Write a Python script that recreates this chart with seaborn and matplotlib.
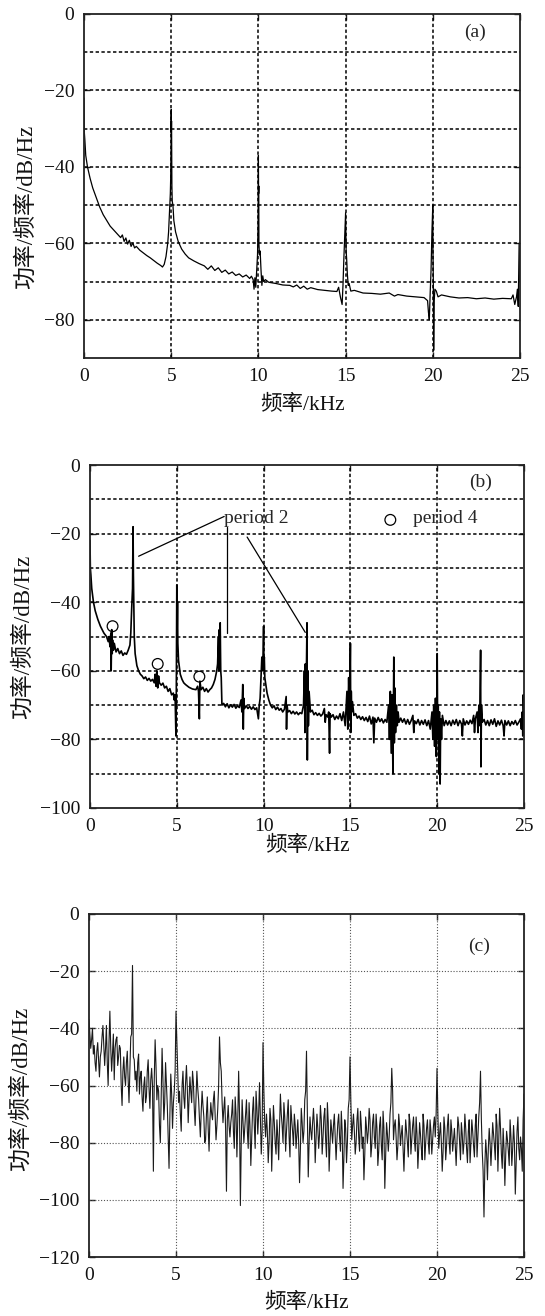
import numpy as np
import matplotlib
matplotlib.use("Agg")
import matplotlib.pyplot as plt
import seaborn as sns

# ---------------- spectrum (a): normal operation ----------------
freq_a = [
    0.00, 0.02, 0.05, 0.10, 0.20, 0.35, 0.50, 0.70, 0.90, 1.10, 1.30, 1.50, 1.70, 1.90,
    2.10, 2.20, 2.30, 2.40, 2.50, 2.60, 2.70, 2.80, 2.90, 3.00, 3.20, 3.40, 3.60, 3.80,
    4.00, 4.20, 4.40, 4.50, 4.60, 4.70, 4.80, 4.85, 4.90, 4.95, 4.97, 4.99, 5.00, 5.01,
    5.02, 5.04, 5.06, 5.10, 5.15, 5.25, 5.40, 5.60, 5.80, 6.00, 6.30, 6.60, 6.90, 7.10,
    7.30, 7.50, 7.70, 7.90, 8.10, 8.30, 8.50, 8.70, 8.90, 9.10, 9.30, 9.50, 9.60, 9.70,
    9.75, 9.80, 9.85, 9.90, 9.95, 9.98, 10.00, 10.01, 10.02, 10.03, 10.06, 10.10, 10.15,
    10.20, 10.25, 10.30, 10.40, 10.60, 11.00, 11.40, 11.80, 12.00, 12.20, 12.40, 12.60,
    12.80, 13.00, 13.40, 13.80, 14.20, 14.50, 14.60, 14.70, 14.80, 14.85, 14.90, 14.95,
    15.00, 15.01, 15.03, 15.06, 15.10, 15.15, 15.20, 15.30, 15.50, 16.00, 16.50, 17.00,
    17.50, 17.80, 18.00, 18.50, 19.00, 19.50, 19.70, 19.75, 19.80, 19.85, 19.90, 19.95,
    20.00, 20.01, 20.03, 20.05, 20.08, 20.12, 20.20, 20.30, 20.50, 21.00, 21.50, 22.00,
    22.50, 23.00, 23.50, 24.00, 24.50, 24.60, 24.70, 24.80, 24.85, 24.90, 24.95, 25.00,
]
psd_a = [
    -22.0, -31.0, -33.0, -37.0, -40.0, -43.0, -45.5, -48.0, -50.5, -52.5, -54.0, -55.5, -56.5, -57.5,
    -58.5, -57.8, -59.5, -58.6, -60.2, -59.2, -60.8, -59.9, -61.2, -60.8, -61.8, -62.5, -63.2, -63.8,
    -64.5, -65.2, -65.8, -66.2, -65.5, -63.5, -60.0, -57.0, -52.0, -47.0, -43.0, -35.0, -25.0, -31.0,
    -28.0, -45.0, -49.0, -50.0, -54.0, -57.0, -59.5, -61.5, -62.8, -63.8, -64.6, -65.3, -65.9, -66.8,
    -65.9, -67.1, -66.4, -67.6, -67.0, -68.0, -67.5, -68.4, -68.0, -68.8, -68.3, -69.2, -68.6, -69.5,
    -72.0, -69.0, -71.5, -67.0, -63.0, -55.0, -37.0, -47.0, -45.0, -60.0, -63.0, -62.0, -67.0,
    -71.0, -68.5, -70.0, -69.5, -70.2, -70.5, -70.9, -71.0, -71.4, -70.9, -71.8, -71.2,
    -72.0, -71.6, -72.1, -72.3, -72.5, -72.6, -71.5, -74.0, -76.0, -71.0, -64.0, -58.0,
    -52.0, -55.0, -62.0, -64.0, -68.0, -71.0, -70.5, -72.5, -72.3, -73.0, -73.1, -73.3,
    -73.0, -73.8, -73.4, -73.8, -74.0, -74.2, -75.0, -78.0, -80.0, -73.0, -67.0, -57.0,
    -50.0, -62.0, -70.0, -88.0, -75.0, -72.0, -72.5, -74.0, -73.5, -74.0, -74.3, -74.2,
    -74.5, -74.3, -74.6, -74.4, -74.5, -73.5, -76.0, -74.0, -72.0, -76.5, -60.0, -70.0,
]

# ---------------- spectrum (b): period-doubling ----------------
freq_b = [
    0.00, 0.02, 0.05, 0.10, 0.20, 0.30, 0.45, 0.60, 0.80, 0.95, 1.05, 1.10, 1.15, 1.20,
    1.22, 1.25, 1.28, 1.30, 1.35, 1.40, 1.50, 1.60, 1.70, 1.80, 1.90, 2.00, 2.10, 2.20,
    2.30, 2.35, 2.40, 2.45, 2.48, 2.50, 2.52, 2.55, 2.60, 2.70, 2.80, 2.90, 3.00, 3.10,
    3.20, 3.30, 3.40, 3.50, 3.60, 3.70, 3.75, 3.80, 3.85, 3.90, 3.95, 4.00, 4.10, 4.20,
    4.30, 4.40, 4.50, 4.60, 4.70, 4.80, 4.85, 4.90, 4.95, 4.97, 5.00, 5.02, 5.04, 5.06,
    5.10, 5.15, 5.20, 5.30, 5.40, 5.50, 5.70, 5.90, 6.10, 6.20, 6.25, 6.30, 6.33, 6.40,
    6.50, 6.60, 6.70, 6.80, 6.90, 7.00, 7.10, 7.20, 7.30, 7.35, 7.40, 7.42, 7.45, 7.48,
    7.50, 7.53, 7.56, 7.60, 7.70, 7.80, 7.90, 8.00, 8.10, 8.20, 8.30, 8.40, 8.50, 8.60,
    8.70, 8.75, 8.80, 8.83, 8.86, 8.90, 9.00, 9.10, 9.20, 9.30, 9.40, 9.50, 9.60, 9.70,
    9.75, 9.80, 9.85, 9.90, 9.95, 10.00, 10.02, 10.04, 10.07, 10.10, 10.20, 10.30, 10.40,
    10.50, 10.60, 10.70, 10.80, 10.90, 11.00, 11.10, 11.20, 11.30, 11.32, 11.35, 11.40,
    11.50, 11.60, 11.70, 11.80, 11.90, 12.00, 12.10, 12.20, 12.30, 12.35, 12.38, 12.40,
    12.43, 12.46, 12.50, 12.52, 12.55, 12.58, 12.62, 12.70, 12.80, 12.90, 13.00, 13.10,
    13.20, 13.30, 13.40, 13.50, 13.55, 13.60, 13.70, 13.75, 13.80, 13.83, 13.90, 14.00,
    14.10, 14.20, 14.30, 14.40, 14.50, 14.60, 14.70, 14.80, 14.85, 14.90, 14.95, 15.00,
    15.02, 15.05, 15.08, 15.12, 15.20, 15.30, 15.40, 15.50, 15.60, 15.70, 15.80, 15.90,
    16.00, 16.10, 16.20, 16.30, 16.35, 16.40, 16.50, 16.60, 16.70, 16.80, 16.90, 17.00,
    17.10, 17.20, 17.25, 17.30, 17.35, 17.40, 17.45, 17.50, 17.53, 17.56, 17.60, 17.65,
    17.70, 17.75, 17.80, 17.90, 18.00, 18.10, 18.20, 18.30, 18.40, 18.50, 18.60, 18.65,
    18.70, 18.80, 18.90, 19.00, 19.10, 19.20, 19.30, 19.40, 19.50, 19.60, 19.70, 19.75,
    19.80, 19.85, 19.90, 19.95, 20.00, 20.03, 20.06, 20.10, 20.13, 20.17, 20.20, 20.25,
    20.30, 20.40, 20.50, 20.60, 20.70, 20.80, 20.90, 21.00, 21.10, 21.20, 21.30, 21.40,
    21.45, 21.50, 21.60, 21.70, 21.80, 21.90, 22.00, 22.10, 22.15, 22.20, 22.30, 22.35,
    22.40, 22.45, 22.50, 22.52, 22.55, 22.60, 22.70, 22.80, 22.90, 23.00, 23.10, 23.20,
    23.30, 23.40, 23.50, 23.60, 23.70, 23.80, 23.85, 23.90, 24.00, 24.10, 24.20, 24.30,
    24.40, 24.50, 24.60, 24.70, 24.80, 24.85, 24.90, 24.93, 24.96, 25.00,
]
psd_b = [
    -22.0, -30.0, -32.0, -36.0, -40.0, -42.5, -45.0, -47.0, -49.0, -50.0, -51.5, -50.0, -53.0, -49.0,
    -60.0, -48.0, -55.0, -51.0, -54.0, -52.0, -54.5, -53.5, -55.0, -54.2, -55.5, -54.8, -55.2, -54.0,
    -52.5, -49.0, -42.0, -36.0, -18.0, -32.0, -40.0, -50.0, -55.0, -58.5, -60.0, -61.0, -61.5, -62.3,
    -61.8, -62.8, -62.2, -63.0, -62.5, -63.5, -61.0, -64.5, -60.0, -65.0, -61.5, -63.5, -64.2, -63.6,
    -65.0, -64.5, -66.0, -65.2, -67.0, -66.5, -68.5, -67.0, -79.0, -68.0, -35.0, -48.0, -40.0, -52.0,
    -57.0, -59.0, -61.0, -62.5, -63.5, -64.0, -64.8, -65.3, -65.5, -64.5, -66.0, -74.0, -63.0, -65.5,
    -64.8, -66.0, -65.2, -66.2, -65.5, -65.0, -64.0, -62.5, -60.0, -58.0, -50.0, -60.0, -48.0, -57.0,
    -46.0, -60.0, -62.0, -70.0, -69.5, -70.5, -69.6, -70.8, -69.9, -70.6, -69.8, -70.9, -70.2, -70.7,
    -68.5, -72.0, -64.0, -77.0, -68.0, -71.0, -70.2, -71.0, -70.4, -71.2, -70.5, -71.3, -70.8, -74.0,
    -70.0, -68.0, -62.0, -56.0, -60.0, -47.0, -58.0, -56.0, -62.0, -63.0, -66.5, -68.5, -70.0,
    -70.8, -70.2, -71.3, -70.6, -71.5, -71.0, -72.0, -71.2, -67.5, -77.0, -70.0, -72.0,
    -71.6, -72.5, -71.8, -72.6, -72.0, -72.8, -72.2, -72.5, -70.0, -60.0, -78.0, -58.0,
    -70.0, -62.0, -46.0, -86.0, -60.0, -76.0, -66.0, -72.0, -71.5, -72.8, -72.2, -73.0,
    -72.4, -73.2, -72.6, -71.0, -75.0, -72.8, -73.5, -72.0, -84.0, -72.5, -73.5, -72.8,
    -74.2, -73.2, -74.0, -72.5, -74.5, -72.0, -76.0, -66.0, -77.0, -62.0, -74.0, -52.0,
    -78.0, -66.0, -72.0, -69.0, -73.0, -72.5, -73.8, -73.2, -74.2, -73.4, -74.5, -73.6,
    -74.8, -73.2, -75.5, -73.5, -81.0, -73.8, -75.0, -73.6, -74.8, -74.0, -75.2, -74.2,
    -75.0, -70.0, -80.0, -66.0, -84.0, -67.0, -90.0, -56.0, -81.0, -65.0, -78.0, -70.0,
    -76.0, -72.0, -75.0, -73.8, -75.0, -74.0, -75.5, -74.2, -75.6, -74.5, -73.0, -78.0,
    -74.6, -75.4, -74.2, -75.8, -74.5, -75.6, -74.3, -76.0, -74.5, -77.0, -72.0, -80.0,
    -70.0, -82.0, -68.0, -85.0, -55.0, -80.0, -70.0, -90.0, -72.0, -93.0, -74.0, -80.0,
    -73.0, -76.0, -74.5, -75.8, -74.6, -76.0, -74.4, -75.6, -74.2, -76.0, -74.5, -75.5,
    -79.0, -74.0, -75.8, -74.6, -75.6, -74.4, -75.4, -73.0, -78.0, -74.0, -72.0, -78.0,
    -70.0, -76.0, -54.0, -88.0, -70.0, -75.0, -74.2, -75.8, -74.5, -76.0, -74.3, -75.6,
    -74.0, -76.2, -74.6, -75.8, -74.4, -76.0, -79.0, -74.5, -75.8, -74.6, -76.0, -74.8,
    -75.6, -74.5, -75.8, -75.0, -74.0, -77.0, -72.0, -79.0, -67.0, -75.0,
]

# period-4 sub-harmonic markers
p4_freq = [1.30, 3.90, 6.30]
p4_psd = [-47.0, -58.0, -61.7]

# ---------------- spectrum (c): chaotic regime, 0.05 kHz bins (one row per kHz) ----------------
psd_c = [
    -37, -42, -47, -44, -40, -49, -46, -52, -55, -48, -45, -51, -57, -50, -48, -43, -39, -46, -53, -47,
    -39, -52, -60, -45, -34, -47, -55, -49, -42, -58, -47, -44, -43, -53, -50, -46, -47, -60, -67, -55,
    -50, -57, -60, -52, -48, -58, -66, -54, -43, -42, -18, -50, -51, -58, -55, -62, -52, -49, -63, -57,
    -55, -64, -69, -60, -57, -66, -64, -55, -51, -61, -68, -58, -54, -60, -90, -58, -44, -53, -65, -60,
    -62, -74, -80, -63, -47, -58, -72, -66, -52, -60, -67, -78, -89, -70, -56, -63, -75, -66, -62, -55,
    -34, -45, -57, -66, -62, -70, -76, -60, -55, -64, -68, -59, -53, -61, -73, -65, -57, -62, -66, -55,
    -59, -68, -74, -65, -55, -61, -65, -72, -78, -69, -62, -67, -71, -80, -79, -70, -64, -75, -83, -72,
    -66, -70, -72, -65, -62, -70, -79, -74, -68, -60, -43, -52, -55, -66, -73, -68, -64, -75, -97, -72,
    -67, -74, -78, -73, -70, -65, -76, -82, -64, -70, -85, -72, -55, -70, -102, -80, -65, -73, -80, -75,
    -70, -65, -76, -82, -66, -74, -88, -78, -69, -64, -74, -82, -62, -68, -77, -70, -59, -72, -84, -76,
    -45, -62, -73, -78, -70, -76, -87, -80, -68, -72, -90, -79, -67, -73, -80, -84, -72, -78, -86, -75,
    -63, -70, -74, -80, -66, -71, -83, -76, -70, -65, -78, -85, -67, -72, -76, -81, -70, -74, -82, -77,
    -72, -80, -94, -82, -68, -73, -80, -76, -65, -62, -48, -70, -92, -80, -71, -76, -79, -73, -68, -74,
    -87, -79, -70, -75, -82, -77, -67, -72, -84, -78, -71, -68, -79, -85, -66, -73, -90, -81, -72, -76,
    -80, -74, -70, -78, -86, -79, -73, -70, -78, -83, -69, -76, -96, -85, -72, -75, -87, -80, -68, -65,
    -50, -66, -79, -74, -70, -76, -84, -80, -72, -68, -78, -83, -69, -74, -82, -78, -93, -84, -71, -75,
    -80, -76, -68, -72, -85, -81, -73, -70, -78, -82, -70, -75, -88, -83, -74, -71, -81, -86, -69, -75,
    -96, -85, -73, -77, -83, -78, -70, -66, -54, -62, -79, -74, -72, -78, -86, -81, -70, -74, -81, -77,
    -74, -82, -90, -80, -72, -76, -80, -85, -70, -73, -84, -79, -74, -71, -79, -83, -71, -77, -89, -82,
    -73, -77, -82, -86, -70, -74, -86, -80, -75, -72, -80, -84, -72, -76, -84, -79, -74, -71, -78, -70,
    -54, -70, -82, -77, -73, -80, -90, -83, -71, -75, -86, -81, -74, -70, -80, -84, -72, -76, -83, -79,
    -75, -81, -88, -79, -71, -74, -80, -86, -73, -77, -84, -80, -70, -75, -82, -87, -76, -72, -87, -80,
    -72, -76, -81, -85, -74, -70, -85, -78, -71, -66, -55, -72, -83, -90, -106, -88, -79, -84, -93, -82,
    -75, -80, -88, -81, -73, -77, -81, -86, -70, -74, -90, -79, -68, -75, -84, -89, -75, -82, -95, -84,
    -76, -79, -83, -88, -72, -78, -88, -82, -74, -80, -98, -87, -76, -71, -82, -86, -78, -82, -90, -72,
    -63,
]
freq_c = np.arange(len(psd_c)) * 0.05  # FFT bin centres, kHz

x_ticks = [0, 5, 10, 15, 20, 25]
x_grid = [5, 10, 15, 20]

sns.set_theme(style="white")
plt.rcParams["font.family"] = ["Liberation Serif", "Noto Sans CJK SC"]
plt.rcParams["axes.unicode_minus"] = True

XLABEL = "频率/kHz"
YLABEL = "功率/频率/dB/Hz"

fig = plt.figure(figsize=(5.45, 13.16), dpi=100)
ax_a = fig.add_axes([84 / 545, 1 - 358 / 1316, 436 / 545, 344 / 1316])
ax_b = fig.add_axes([90 / 545, 1 - 808 / 1316, 434 / 545, 343 / 1316])
ax_c = fig.add_axes([89 / 545, 1 - 1257 / 1316, 435 / 545, 343 / 1316])

dash_grid = dict(color="black", lw=1.1, linestyle=(0, (2.2, 1.6)))
dot_grid = dict(color="#555555", lw=0.8, linestyle=(0, (1, 1.6)))


def style_axes(ax, ymin, yticks, ygrid, grid_kw, ylab_xy, xlab_y):
    ax.set_xlim(0, 25)
    ax.set_ylim(ymin, 0)
    ax.set_xticks(x_ticks)
    ax.set_yticks(yticks)
    ax.set_xticklabels([str(t) for t in x_ticks])
    ax.set_yticklabels([("\u2212" + str(-t)) if t < 0 else str(t) for t in yticks])
    for y in ygrid:
        ax.axhline(y, zorder=1, **grid_kw)
    for x in x_grid:
        ax.axvline(x, zorder=1, **grid_kw)
    for sp in ax.spines.values():
        sp.set_visible(True)
        sp.set_color("#222222")
        sp.set_linewidth(1.3)
        sp.set_zorder(5)
    ax.tick_params(axis="both", which="both", direction="in", length=4,
                   width=1.0, color="#222222", labelsize=14, labelcolor="#111111",
                   top=True, right=True, bottom=True, left=True, pad=7)
    ax.set_xlabel(XLABEL, fontsize=15.5, color="#111111")
    ax.set_ylabel(YLABEL, fontsize=16.5, color="#111111")
    ax.xaxis.set_label_coords(0.5, xlab_y)
    ax.xaxis.label.set_verticalalignment("center")
    ax.yaxis.set_label_coords(*ylab_xy)
    ax.yaxis.label.set_verticalalignment("center")
    ax.set_facecolor("white")


# (a)
sns.lineplot(x=freq_a, y=psd_a, ax=ax_a, color="black", lw=0.9,
             estimator=None, sort=False, zorder=3)
style_axes(ax_a, -90, [0, -20, -40, -60, -80], list(range(-10, -90, -10)),
           dash_grid, (-0.133, 0.44), -0.137)
ax_a.text(22.4, -4.7, "(a)", fontsize=14, ha="center", va="center")

# (b)
sns.lineplot(x=freq_b, y=psd_b, ax=ax_b, color="black", lw=1.2,
             estimator=None, sort=False, zorder=3)
style_axes(ax_b, -100, [0, -20, -40, -60, -80, -100], list(range(-10, -100, -10)),
           dash_grid, (-0.154, 0.5), -0.111)
ax_b.text(22.5, -5.2, "(b)", fontsize=14, ha="center", va="center")
sns.scatterplot(x=p4_freq, y=p4_psd, ax=ax_b, marker="o", s=60,
                facecolor="none", edgecolor="black", linewidth=0.9, zorder=4)
# "period 2" pointer lines
ax_b.text(7.73, -15.5, "period 2", fontsize=14, ha="left", va="center")
ax_b.plot([7.73, 2.8], [-15.0, -26.6], color="black", lw=0.9, zorder=4)
ax_b.plot([9.05, 12.4], [-21.0, -48.8], color="black", lw=0.9, zorder=4)
ax_b.plot([7.9, 7.9], [-18.0, -49.0], color="black", lw=0.9, zorder=4)
# legend entry for the period-4 markers
ax_b.scatter([17.3], [-16.0], s=60, facecolor="none", edgecolor="black",
             linewidth=0.9, zorder=4)
ax_b.text(18.6, -15.5, "period 4", fontsize=14, ha="left", va="center")

# (c)
sns.lineplot(x=freq_c, y=psd_c, ax=ax_c, color="#1a1a1a", lw=0.8,
             estimator=None, sort=False, zorder=3)
style_axes(ax_c, -120, [0, -20, -40, -60, -80, -100, -120],
           [-20, -40, -60, -80, -100], dot_grid, (-0.156, 0.49), -0.134)
ax_c.text(22.4, -11.2, "(c)", fontsize=14, ha="center", va="center")

fig.savefig("out.png", dpi=100, facecolor="white")
